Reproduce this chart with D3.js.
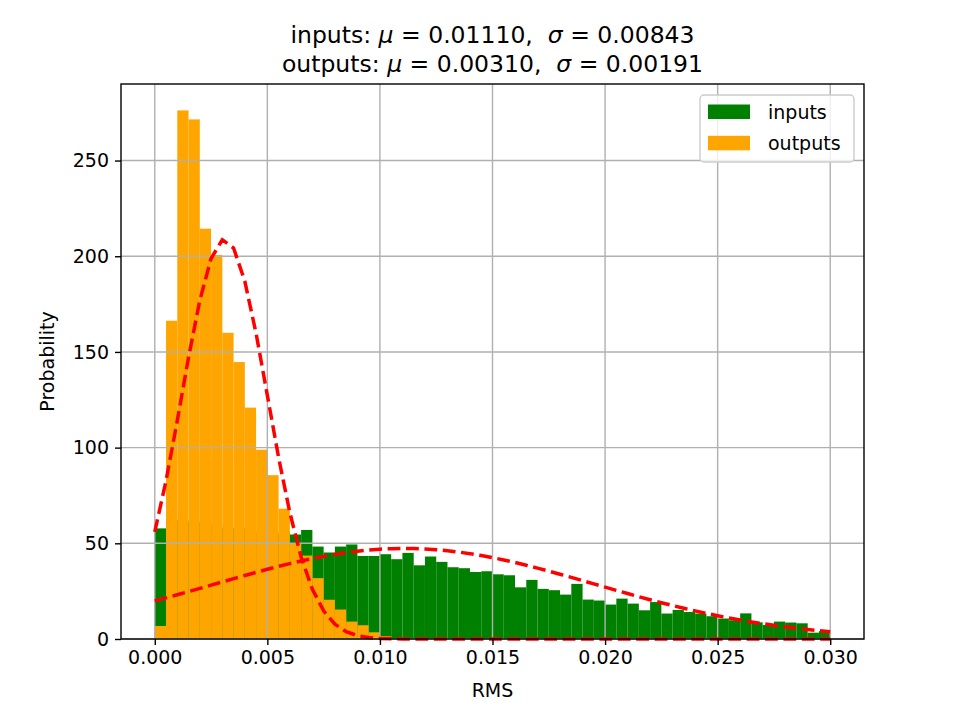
<!DOCTYPE html>
<html>
<head>
<meta charset="utf-8">
<script src="https://cdn.jsdelivr.net/npm/d3@7"></script>
<style>
    body { margin: 0; background: #fff; }
    svg text { font-family: "DejaVu Sans", sans-serif; fill: #000; }
</style>
</head>
<body>
<div id="hist-chart"></div>
<script>
// histogram bins: 60 bins of width 0.0005 from 0 to 0.03
const binWidth = 0.0005;
const inputs = [57.8, 63, 62, 61, 61, 60, 58, 58, 57, 56, 55, 56,
    54.6, 57, 48.3, 45.2, 48.3, 49.4, 43.4, 43.4, 44.3, 41.7,
    45, 38.5, 43.1, 40.3, 37.5, 37, 35, 35.4, 33.8, 33.3,
    27, 30.9, 26.2, 25.5, 23.2, 28.8, 20.6, 20.1, 18, 21.1,
    18.5, 15, 19.3, 13.3, 15.2, 14.1, 13.3, 11.9, 10.7, 9.8,
    13.4, 8.7, 7.3, 9.1, 8.6, 8.2, 3.3, 4.1];
const outputs = [6.8, 166.3, 276.2, 271.5, 214.4, 200.7, 160, 144.7, 120.9, 98.9,
    85.6, 68.1, 50, 43.6, 31.8, 20.5, 15.4, 9.1, 7.2, 3.5, 1.4,
    0, 0, 0, 0, 0, 0, 0, 0, 0, 0, 0, 0, 0, 0, 0, 0, 0, 0, 0,
    0, 0, 0, 0, 0, 0, 0, 0, 0, 0, 0, 0, 0, 0, 0, 0, 0, 0, 0, 0];

// dashed fit curves, one value per bin edge (61 edges)
const inputsFit = [19.89, 21.46, 23.09, 24.74, 26.42, 28.12, 29.82, 31.52, 33.19, 34.83,
    36.42, 37.95, 39.41, 40.78, 42.04, 43.19, 44.22, 45.12, 45.87, 46.48,
    46.92, 47.20, 47.32, 47.27, 47.05, 46.67, 46.13, 45.44, 44.60, 43.62,
    42.52, 41.30, 39.97, 38.54, 37.04, 35.47, 33.85, 32.19, 30.50, 28.80,
    27.10, 25.41, 23.75, 22.11, 20.51, 18.97, 17.47, 16.04, 14.68, 13.38,
    12.15, 11.00, 9.92, 8.92, 7.99, 7.13, 6.35, 5.62, 4.97, 4.37, 3.83];
const outputsFit = [56.0, 82.7, 114.1, 147.1, 176.9, 198.8, 208.6, 204.3, 186.9, 159.7,
    127.3, 94.8, 66.0, 42.8, 26.0, 14.7, 7.77, 3.84, 1.77, 0.76,
    0.31, 0.11, 0.04, 0.01, 0, 0, 0, 0, 0, 0,
    0, 0, 0, 0, 0, 0, 0, 0, 0, 0,
    0, 0, 0, 0, 0, 0, 0, 0, 0, 0,
    0, 0, 0, 0, 0, 0, 0, 0, 0, 0, 0];

const xTicks = [0, 0.005, 0.010, 0.015, 0.020, 0.025, 0.030];
const yTicks = [0, 50, 100, 150, 200, 250];
const titleLines = [
    ["inputs: ", "0.01110", "0.00843"],
    ["outputs: ", "0.00310", "0.00191"]
];
const legendItems = [["inputs", "green"], ["outputs", "orange"]];

const width = 961, height = 719;
const margin = { top: 84, right: 97, bottom: 80, left: 121 };
const fontSize = '19px';

let svg = d3.select("#hist-chart").append('svg')
    .attr('width', width)
    .attr('height', height)
;

let x = d3.scaleLinear()
    .domain([-0.0015, 0.0315])
    .range([margin.left, width - margin.right]);
let y = d3.scaleLinear()
    .domain([0, 290])
    .range([height - margin.bottom, margin.top]);

// bars: inputs first, outputs drawn over them
function drawBars(values, color) {
    svg.append('g')
        .selectAll('rect')
        .data(values)
        .enter()
        .append('rect')
        .attr('x', (d, i) => x(i * binWidth))
        .attr('y', d => y(d))
        .attr('width', (d, i) => x((i + 1) * binWidth) - x(i * binWidth))
        .attr('height', d => y(0) - y(d))
        .style('fill', color)
    ;
}
drawBars(inputs, '#008000');
drawBars(outputs, '#ffa500');

// grid
let grid = svg.append('g').attr('class', 'grid');
grid.selectAll('.gx')
    .data(xTicks)
    .enter()
    .append('line')
    .attr('x1', d => x(d)).attr('x2', d => x(d))
    .attr('y1', y.range()[0]).attr('y2', y.range()[1])
    .style('stroke', '#b0b0b0').style('stroke-width', 1.4)
;
grid.selectAll('.gy')
    .data(yTicks)
    .enter()
    .append('line')
    .attr('x1', x.range()[0]).attr('x2', x.range()[1])
    .attr('y1', d => y(d)).attr('y2', d => y(d))
    .style('stroke', '#b0b0b0').style('stroke-width', 1.4)
;

// fit curves
let line = d3.line()
    .x((d, i) => x(i * binWidth))
    .y(d => y(d));
[inputsFit, outputsFit].forEach(fit => {
    svg.append('path')
        .attr('d', line(fit))
        .style('fill', 'none')
        .style('stroke', '#ff0000')
        .style('stroke-width', 3.5)
        .style('stroke-dasharray', '12.8,5.6')
    ;
});

// axes
let xAxis = svg.append('g')
    .attr('transform', `translate(0, ${y(0)})`)
    .call(d3.axisBottom(x).tickValues(xTicks).tickFormat(d3.format('.3f')).tickSize(6).tickPadding(6));
let yAxis = svg.append('g')
    .attr('transform', `translate(${margin.left}, 0)`)
    .call(d3.axisLeft(y).tickValues(yTicks).tickSize(6).tickPadding(6));
[xAxis, yAxis].forEach(a => {
    a.select('.domain').remove();
    a.selectAll('line').style('stroke', '#000').style('stroke-width', 1.4);
    a.selectAll('text').style('font-size', fontSize).style('font-family', '"DejaVu Sans", sans-serif');
});

// frame
svg.append('rect')
    .attr('x', x.range()[0])
    .attr('y', y.range()[1])
    .attr('width', x.range()[1] - x.range()[0])
    .attr('height', y.range()[0] - y.range()[1])
    .style('fill', 'none')
    .style('stroke', '#000')
    .style('stroke-width', 1.4)
;

// axis labels
svg.append('text')
    .attr('x', (x.range()[0] + x.range()[1]) / 2)
    .attr('y', 697)
    .style('text-anchor', 'middle')
    .style('font-size', fontSize)
    .text('RMS');
svg.append('text')
    .attr('transform', 'rotate(-90)')
    .attr('x', -(y.range()[0] + y.range()[1]) / 2)
    .attr('y', 54)
    .style('text-anchor', 'middle')
    .style('font-size', fontSize)
    .text('Probability');

// title
titleLines.forEach((t, i) => {
    let txt = svg.append('text')
        .attr('x', (x.range()[0] + x.range()[1]) / 2)
        .attr('y', 42.5 + i * 29.3)
        .style('text-anchor', 'middle')
        .style('font-size', '23.5px')
        .attr('xml:space', 'preserve');
    txt.append('tspan').text(t[0]);
    txt.append('tspan').style('font-style', 'italic').text('μ');
    txt.append('tspan').text(' = ' + t[1] + ',  ');
    txt.append('tspan').style('font-style', 'italic').text('σ');
    txt.append('tspan').text(' = ' + t[2]);
});

// legend
let legend = svg.append('g');
legend.append('rect')
    .attr('x', 700).attr('y', 95)
    .attr('width', 154).attr('height', 67)
    .attr('rx', 4)
    .style('fill', '#fff').style('fill-opacity', 0.8)
    .style('stroke', '#cccccc').style('stroke-width', 1.4)
;
legendItems.forEach((item, i) => {
    legend.append('rect')
        .attr('x', 708).attr('y', 104.5 + i * 31.3)
        .attr('width', 42).attr('height', 14.5)
        .style('fill', item[1]);
    legend.append('text')
        .attr('x', 768).attr('y', 118.5 + i * 31.3)
        .style('font-size', fontSize)
        .text(item[0]);
});
</script>
</body>
</html>
